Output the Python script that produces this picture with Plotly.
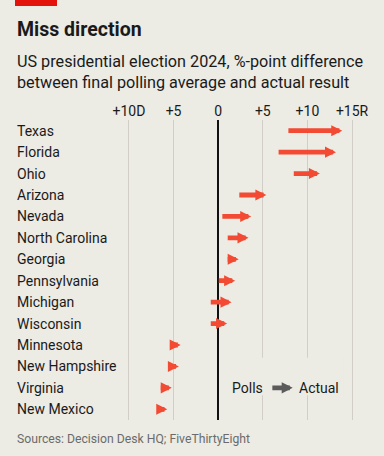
import plotly.graph_objects as go

states = ["Texas", "Florida", "Ohio", "Arizona", "Nevada", "North Carolina", "Georgia",
          "Pennsylvania", "Michigan", "Wisconsin", "Minnesota", "New Hampshire",
          "Virginia", "New Mexico"]
# %-point margin, positive = Republican, negative = Democrat
polls = [7.7, 6.6, 8.3, 2.2, 0.3, 0.9, 0.9, -0.1, -1.0, -1.0, -5.4, -5.6, -6.6, -6.9]
actual = [13.9, 13.2, 11.4, 5.4, 3.7, 3.4, 2.3, 1.9, 1.5, 1.0, -4.2, -4.4, -5.2, -5.7]
tick_vals = [-10, -5, 0, 5, 10, 15]
tick_text = ["+10D", "+5", "0", "+5", "+10", "+15R"]

BG = "#ecebe4"
RED = "#f24a33"
TXT = "#1a1a1a"
GRID = "#d0cec7"
FONT = "Roboto"

W, H = 384, 456
ML, MR, MT, MB = 120, 23, 120, 36
PW, PH = W - ML - MR, H - MT - MB


def px(x):
    return (x - ML) / PW


def py(y):
    return (H - MB - y) / PH


fig = go.Figure()
# invisible trace to set up the category axis
fig.add_trace(go.Scatter(x=polls, y=states, mode="markers",
                         marker=dict(size=1, color="rgba(0,0,0,0)"),
                         hoverinfo="skip", showlegend=False))

annotations = []
for s, p, a in zip(states, polls, actual):
    annotations.append(dict(x=a, y=s, ax=p, ay=s, xref="x", yref="y", axref="x", ayref="y",
                            text="", showarrow=True, arrowhead=2, arrowsize=0.46,
                            arrowwidth=4.8, arrowcolor=RED, standoff=0, startstandoff=0))
    annotations.append(dict(x=px(15), y=s, xref="paper", yref="y", text=s, showarrow=False,
                            xanchor="left", yanchor="middle",
                            font=dict(family=FONT, size=14, color=TXT)))

# legend key
annotations.append(dict(x=5.25, y="Virginia", xref="x", yref="y", text="Polls", showarrow=False,
                        xanchor="right", yanchor="middle", font=dict(family=FONT, size=14, color=TXT)))
annotations.append(dict(x=8.85, y="Virginia", xref="x", yref="y", text="Actual", showarrow=False,
                        xanchor="left", yanchor="middle", font=dict(family=FONT, size=14, color=TXT)))
annotations.append(dict(x=8.35, y="Virginia", ax=5.9, ay="Virginia", xref="x", yref="y",
                        axref="x", ayref="y", text="", showarrow=True, arrowhead=2,
                        arrowsize=0.46, arrowwidth=4.8, arrowcolor="#5b5b5b", standoff=0, startstandoff=0))

# titles
annotations.append(dict(x=px(15), y=py(29), xref="paper", yref="paper", text="<b>Miss direction</b>",
                        showarrow=False, xanchor="left", yanchor="middle",
                        font=dict(family=FONT, size=19.5, color=TXT)))
annotations.append(dict(x=px(15), y=py(72), xref="paper", yref="paper",
                        text="US presidential election 2024, %-point difference<br>between final polling average and actual result",
                        showarrow=False, xanchor="left", yanchor="middle", align="left",
                        font=dict(family=FONT, size=16.2, color=TXT)))
annotations.append(dict(x=px(15), y=py(439), xref="paper", yref="paper",
                        text="Sources: Decision Desk HQ; FiveThirtyEight",
                        showarrow=False, xanchor="left", yanchor="middle",
                        font=dict(family=FONT, size=12.2, color="#6b6b6b")))

shapes = [
    dict(type="rect", xref="paper", yref="paper", x0=px(15), x1=px(57), y0=py(0), y1=py(6),
         fillcolor="#e3120b", line=dict(width=0)),
    dict(type="rect", xref="x", yref="y", x0=1.2, x1=14.0, y0=10.6, y1=12.35,
         fillcolor=BG, line=dict(width=0), layer="between"),
]

fig.update_layout(
    width=W, height=H, margin=dict(l=ML, r=MR, t=MT, b=MB),
    paper_bgcolor=BG, plot_bgcolor=BG, showlegend=False,
    annotations=annotations, shapes=shapes,
    xaxis=dict(range=[-11, 16], side="top", tickvals=tick_vals, ticktext=tick_text,
               showgrid=True, gridcolor=GRID, gridwidth=1,
               zeroline=True, zerolinecolor="#111111", zerolinewidth=1.6,
               showline=False, ticks="", tickfont=dict(family=FONT, size=14, color=TXT),
               fixedrange=True),
    yaxis=dict(categoryorder="array", categoryarray=states, range=[13.5, -0.5],
               showticklabels=False, showgrid=False, zeroline=False, showline=False,
               ticks="", fixedrange=True),
)

fig.write_html("out.html", config={"displayModeBar": False},
               post_script="document.body.style.margin='0';document.body.style.background='%s';" % BG)
